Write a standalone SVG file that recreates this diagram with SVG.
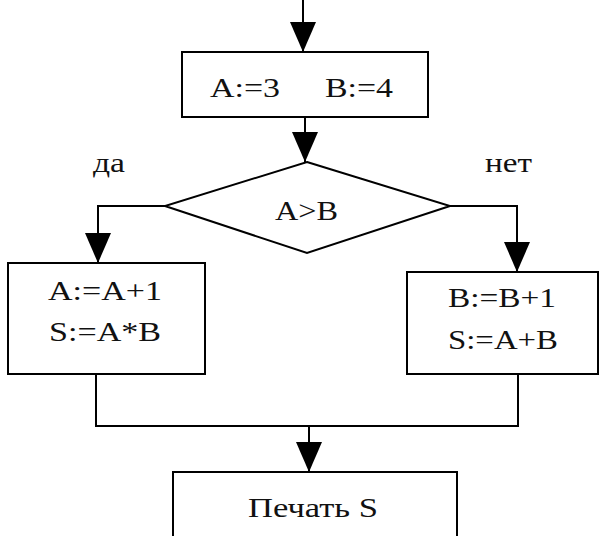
<svg xmlns="http://www.w3.org/2000/svg" width="602" height="536" viewBox="0 0 602 536">
<style>
.box{fill:#fff;stroke:#000;stroke-width:2}
.ln{fill:none;stroke:#000;stroke-width:2}
text{font-family:"Liberation Serif","DejaVu Serif",serif;font-size:28px;fill:#111}
</style>
<defs>
<marker id="ah" markerUnits="userSpaceOnUse" markerWidth="30" markerHeight="26" refX="30" refY="13" orient="auto">
<path d="M0,0 L30,13 L0,26 Z" fill="#000"/>
</marker>
</defs>
<rect width="602" height="536" fill="#fff"/>
<g id="connectors">
<line class="ln" x1="303" y1="0" x2="303" y2="52" marker-end="url(#ah)"/>
<line class="ln" x1="305" y1="117" x2="305" y2="162" marker-end="url(#ah)"/>
<polyline class="ln" points="165,206 98,206 98,263" marker-end="url(#ah)"/>
<polyline class="ln" points="450,206 517,206 517,272" marker-end="url(#ah)"/>
<polyline class="ln" points="96,374 96,426 518,426 518,374"/>
<line class="ln" x1="309" y1="426" x2="309" y2="472" marker-end="url(#ah)"/>
</g>
<g id="init">
<rect class="box" x="182" y="52" width="246" height="65"/>
<text y="97"><tspan x="210" textLength="70" lengthAdjust="spacingAndGlyphs">A:=3</tspan><tspan x="325" textLength="68" lengthAdjust="spacingAndGlyphs">B:=4</tspan></text>
</g>
<g id="cond">
<polygon class="box" points="307,162 450,206 307,253 165,206"/>
<text x="275" y="220" textLength="63" lengthAdjust="spacingAndGlyphs">A&gt;B</text>
</g>
<text x="93" y="172" textLength="32" lengthAdjust="spacingAndGlyphs">да</text>
<text x="485" y="172" textLength="47" lengthAdjust="spacingAndGlyphs">нет</text>
<g id="yes">
<rect class="box" x="8" y="263" width="197" height="111"/>
<text x="48" y="300" textLength="114" lengthAdjust="spacingAndGlyphs">A:=A+1</text>
<text x="49" y="341" textLength="112" lengthAdjust="spacingAndGlyphs">S:=A*B</text>
</g>
<g id="no">
<rect class="box" x="407" y="272" width="191" height="102"/>
<text x="448" y="307" textLength="108" lengthAdjust="spacingAndGlyphs">B:=B+1</text>
<text x="448" y="349" textLength="110" lengthAdjust="spacingAndGlyphs">S:=A+B</text>
</g>
<g id="print">
<rect class="box" x="173" y="472" width="284" height="70"/>
<text x="248" y="517" textLength="130" lengthAdjust="spacingAndGlyphs">Печать S</text>
</g>
</svg>
